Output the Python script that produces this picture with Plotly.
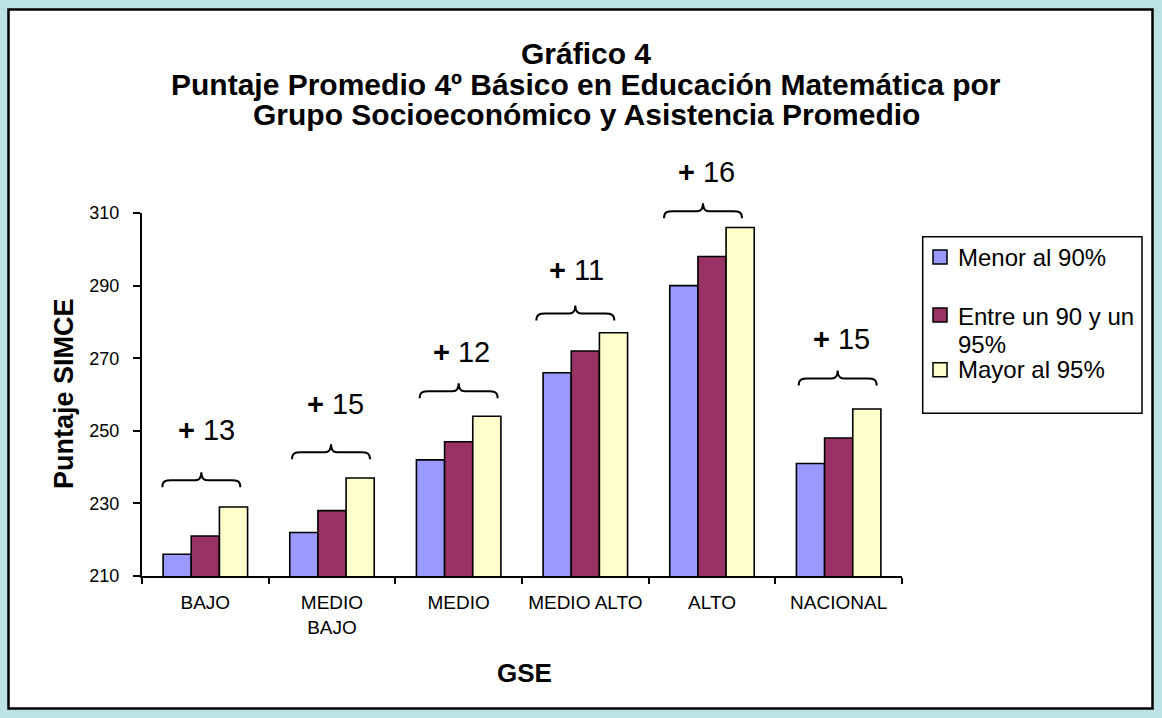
import plotly.graph_objects as go

# ---------------- data ----------------
categories = ["BAJO", "MEDIO<br>BAJO", "MEDIO", "MEDIO ALTO", "ALTO", "NACIONAL"]
series_names = ["Menor al 90%", "Entre un 90 y un<br>95%", "Mayor al 95%"]
menor_90 = [216, 222, 242, 266, 290, 241]
entre_90_95 = [221, 228, 247, 272, 298, 248]
mayor_95 = [229, 237, 254, 277, 306, 256]
differences = [13, 15, 12, 11, 16, 15]
y_ticks = [210, 230, 250, 270, 290, 310]

title_lines = [
    "Gráfico 4",
    "Puntaje Promedio 4º Básico en Educación Matemática por",
    "Grupo Socioeconómico y Asistencia Promedio",
]
y_title = "Puntaje SIMCE"
x_title = "GSE"

# ---------------- styles / layout ----------------
colors = ["#9999FF", "#993366", "#FFFFCC"]
BG = "#BCE2E5"
FONT = "Liberation Sans, Arial, sans-serif"
W, H = 1162, 718
L, R, T, B = 142, 902, 213, 576  # plot area in pixels
Y_RANGE = [y_ticks[0], y_ticks[-1]]


def fx(px):
    return (px - L) / (R - L)


def fy(py):
    return (B - py) / (B - T)


def yv(v):
    """data value -> paper fraction along the y axis (for decorations above the range)"""
    return (v - Y_RANGE[0]) / (Y_RANGE[1] - Y_RANGE[0])


series = [menor_90, entre_90_95, mayor_95]
fig = go.Figure()
for name, vals, col in zip(series_names, series, colors):
    fig.add_trace(go.Bar(
        x=categories, y=vals, name=name.replace("<br>", " "),
        marker=dict(color=col, line=dict(color="black", width=1.6)),
        showlegend=False,
    ))

shapes = []
annotations = []

# outer white frame
shapes.append(dict(type="rect", xref="paper", yref="paper", layer="below",
                   x0=fx(8.5), x1=fx(1152.5), y0=fy(708.5), y1=fy(9.5),
                   fillcolor="white", line=dict(color="black", width=2.5)))

# brackets and difference labels
bracket_gap = [7.4, 7.1, 6.9, 5.3, 4.5, 8.4]       # data units above top bar
bracket_dx = [-4, -1, 0, -10, -9, -1]              # pixel shift
label_gap = [21.2, 20.3, 17.7, 17.2, 15.3, 19.4]   # data units above top bar
label_dx = [1, 3, 3, -9, -6, 3]


def brace_path(dx, hw=39, hook=7, peak=8):
    def p(x, y):
        return f"{x + dx:.1f},{y:.1f}"
    return (f"M {p(-hw, -hook)} C {p(-hw, -1)} {p(-hw + 3, 0)} {p(-hw + 9, 0)} "
            f"L {p(-6, 0)} C {p(-2, 0)} {p(0, 3)} {p(0, peak)} "
            f"C {p(0, 3)} {p(2, 0)} {p(6, 0)} L {p(hw - 9, 0)} "
            f"C {p(hw - 3, 0)} {p(hw, -1)} {p(hw, -hook)}")


for i, cat in enumerate(categories):
    top = max(menor_90[i], entre_90_95[i], mayor_95[i])
    shapes.append(dict(type="path", xref="x", yref="paper",
                       xsizemode="pixel", ysizemode="pixel",
                       xanchor=i, yanchor=yv(top + bracket_gap[i]),
                       path=brace_path(bracket_dx[i]),
                       line=dict(color="black", width=2)))
    annotations.append(dict(x=i, y=yv(top + label_gap[i]), xref="x", yref="paper",
                            text=f"<b>+</b> {differences[i]}", showarrow=False,
                            xshift=label_dx[i], xanchor="center", yanchor="middle",
                            font=dict(family=FONT, size=29, color="black")))

# title
title_y = [53, 84, 115]
for line, ty in zip(title_lines, title_y):
    annotations.append(dict(x=fx(586), y=fy(ty), xref="paper", yref="paper",
                            text=f"<b>{line}</b>", showarrow=False,
                            xanchor="center", yanchor="middle",
                            font=dict(family=FONT, size=30, color="black")))

# axis titles
annotations.append(dict(x=fx(64), y=fy(394), xref="paper", yref="paper",
                        text=f"<b>{y_title}</b>", showarrow=False, textangle=-90,
                        xanchor="center", yanchor="middle",
                        font=dict(family=FONT, size=27, color="black")))
annotations.append(dict(x=fx(524), y=fy(673), xref="paper", yref="paper",
                        text=f"<b>{x_title}</b>", showarrow=False,
                        xanchor="center", yanchor="middle",
                        font=dict(family=FONT, size=26, color="black")))

# manual legend
shapes.append(dict(type="rect", xref="paper", yref="paper",
                   x0=fx(922.7), x1=fx(1142), y0=fy(413.3), y1=fy(236.7),
                   fillcolor="white", line=dict(color="black", width=1.5)))
legend_square_y = [257, 315, 369.7]
legend_line_y = [[257], [316.7, 344], [369]]
for name, col, sy, lys in zip(series_names, colors, legend_square_y, legend_line_y):
    shapes.append(dict(type="rect", xref="paper", yref="paper",
                       x0=fx(933), x1=fx(947), y0=fy(sy + 7), y1=fy(sy - 7),
                       fillcolor=col, line=dict(color="black", width=1.5)))
    for txt, ly in zip(name.split("<br>"), lys):
        annotations.append(dict(x=fx(956), y=fy(ly), xref="paper", yref="paper",
                                text=txt, showarrow=False,
                                xanchor="left", yanchor="middle",
                                font=dict(family=FONT, size=24, color="black")))

fig.update_layout(
    width=W, height=H,
    margin=dict(l=L, r=W - R, t=T, b=H - B, pad=0),
    paper_bgcolor=BG,
    plot_bgcolor="rgba(0,0,0,0)",
    barmode="group", bargap=0.333, bargroupgap=0,
    font=dict(family=FONT, color="black"),
    shapes=shapes, annotations=annotations,
    showlegend=False,
)
fig.update_xaxes(
    type="category", tickson="boundaries", ticks="outside", ticklen=6,
    tickwidth=2, tickcolor="black", showline=True, linewidth=2, linecolor="black",
    showgrid=False, tickfont=dict(family=FONT, size=19, color="black"),
    ticklabelstandoff=8,
)
fig.update_yaxes(
    range=Y_RANGE, tickvals=y_ticks, ticks="outside", ticklen=7, tickwidth=2,
    tickcolor="black", showline=True, linewidth=2, linecolor="black",
    showgrid=False, zeroline=False, tickfont=dict(family=FONT, size=18, color="black"),
    ticklabelstandoff=10,
)

fig.write_html(
    "out.html",
    config={"displayModeBar": False},
    post_script=("document.body.style.margin='0';"
                 "document.body.style.overflow='hidden';"
                 f"document.body.style.background='{BG}';"),
)
